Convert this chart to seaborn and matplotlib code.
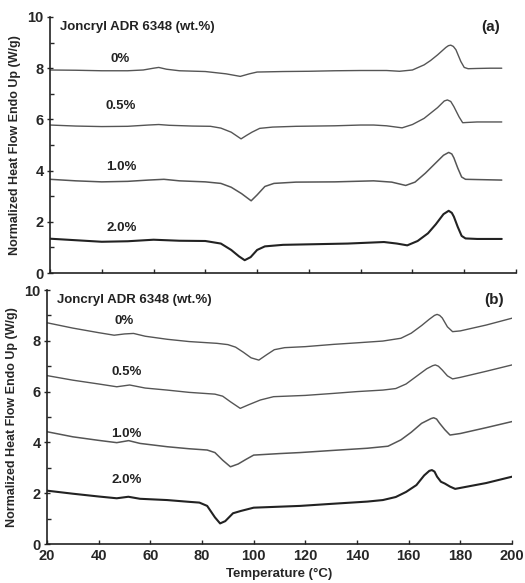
import numpy as np
import pandas as pd
import seaborn as sns
import matplotlib
matplotlib.use("Agg")
import matplotlib.pyplot as plt
from matplotlib.ticker import MultipleLocator

# ---- data ----
labels = ["0%", "0.5%", "1.0%", "2.0%"]

# panel (a)
a0_x = [20, 30, 40, 50, 56, 60, 62, 65, 70, 80, 88, 93.5, 97, 100, 110, 120, 130, 140, 150, 155, 160, 164.5, 167, 169.7, 172.9, 173.9, 174.8, 175.8, 176.8, 178.7, 180, 181.5, 185, 190, 194.5]
a0_y = [7.93, 7.92, 7.9, 7.9, 7.93, 8.0, 8.03, 7.96, 7.9, 7.87, 7.78, 7.68, 7.78, 7.85, 7.87, 7.88, 7.9, 7.91, 7.91, 7.88, 7.93, 8.13, 8.3, 8.52, 8.81, 8.88, 8.9, 8.85, 8.72, 8.26, 8.03, 7.98, 7.99, 8.0, 8.0]

a05_x = [20, 30, 40, 50, 58, 62, 66, 75, 82, 86, 90, 93.8, 96, 98, 101, 106, 115, 130, 140, 145, 150, 156, 160, 164.5, 169.7, 172.3, 173.5, 174.8, 176, 178, 179.4, 181, 185, 194.5]
a05_y = [5.78, 5.74, 5.72, 5.73, 5.78, 5.8, 5.77, 5.74, 5.73, 5.66, 5.5, 5.24, 5.38, 5.5, 5.65, 5.7, 5.73, 5.75, 5.78, 5.78, 5.75, 5.67, 5.8, 6.04, 6.46, 6.72, 6.76, 6.7, 6.5, 6.1, 5.87, 5.88, 5.9, 5.9]

a1_x = [20, 30, 40, 50, 58, 64, 70, 80, 86, 90, 94, 97.7, 100, 103, 106.5, 115, 130, 145, 152, 157.4, 161, 165, 169, 172, 174, 175.2, 176, 177.5, 179, 180.5, 185, 194.5]
a1_y = [3.66, 3.6, 3.56, 3.58, 3.63, 3.66, 3.6, 3.56, 3.5, 3.35, 3.1, 2.82, 3.05, 3.38, 3.5, 3.55, 3.56, 3.6, 3.55, 3.42, 3.55, 3.9, 4.3, 4.6, 4.71, 4.65, 4.5, 4.1, 3.75, 3.66, 3.65, 3.63]

a2_x = [20, 30, 40, 50, 60, 70, 80, 86, 90, 93, 95.2, 97.5, 100, 103, 110, 120, 135, 149, 154, 158, 162, 166, 169, 172, 174, 175.2, 176, 177.5, 179, 180.5, 185, 194.5]
a2_y = [1.34, 1.28, 1.22, 1.24, 1.3, 1.26, 1.25, 1.15, 0.9, 0.65, 0.5, 0.62, 0.9, 1.04, 1.1, 1.12, 1.15, 1.21, 1.15, 1.08, 1.25, 1.55, 1.9, 2.3, 2.43, 2.35, 2.2, 1.8, 1.45, 1.35, 1.33, 1.33]

# panel (b)
b0_x = [20, 30, 40, 46, 50, 53.5, 58, 66.5, 75, 85.8, 90, 93, 96, 99, 102, 105, 108, 112, 120, 131, 140, 150, 157, 161, 165, 168, 170, 171, 172, 173, 175, 177, 180, 190, 200]
b0_y = [8.71, 8.5, 8.32, 8.22, 8.27, 8.29, 8.18, 8.06, 7.97, 7.9, 7.85, 7.75, 7.55, 7.33, 7.24, 7.45, 7.65, 7.73, 7.77, 7.86, 7.92, 7.99, 8.1, 8.3, 8.6, 8.85, 9.0, 9.04, 9.0, 8.9, 8.55, 8.36, 8.39, 8.62, 8.89]

b05_x = [20, 30, 40, 47, 52, 58, 66.5, 75, 85, 88, 91, 94.8, 98, 102.6, 107.7, 120, 131, 140, 150, 155, 159, 163, 167, 169.3, 170.3, 171.5, 173, 175, 177, 180, 190, 200]
b05_y = [6.63, 6.45, 6.3, 6.19, 6.26, 6.14, 6.06, 5.97, 5.9, 5.82, 5.6, 5.34, 5.48, 5.67, 5.8, 5.85, 5.93, 6.0, 6.06, 6.12, 6.3, 6.6, 6.9, 7.02, 7.05, 7.0, 6.85, 6.62, 6.5, 6.56, 6.8, 7.05]

b1_x = [20, 30, 40, 47, 51.6, 56, 66.5, 75, 82, 85, 88, 91, 94, 97, 100, 110, 118, 130, 144, 152, 157, 161, 165, 168.7, 169.7, 170.8, 172, 174, 176, 180, 190, 200]
b1_y = [4.42, 4.22, 4.08, 3.99, 4.07, 3.96, 3.83, 3.75, 3.7, 3.6, 3.3, 3.04, 3.15, 3.33, 3.5, 3.56, 3.6, 3.68, 3.77, 3.85, 4.1, 4.4, 4.75, 4.94, 4.97, 4.92, 4.75, 4.5, 4.29, 4.35, 4.58, 4.82]

b2_x = [20, 30, 40, 47, 51.5, 56, 66.5, 75, 79, 82, 85, 87, 89, 92, 95, 100, 118, 130, 144, 150, 155, 159, 163, 166, 168, 169, 170, 171, 172.5, 174, 176, 178, 190, 200]
b2_y = [2.1, 1.98, 1.87, 1.8, 1.86, 1.78, 1.73, 1.66, 1.63, 1.5, 1.05, 0.81, 0.9, 1.21, 1.3, 1.43, 1.5, 1.58, 1.67, 1.73, 1.85, 2.05, 2.32, 2.7, 2.88, 2.91, 2.85, 2.65, 2.45, 2.38, 2.26, 2.17, 2.4, 2.65]

# label positions (data coords)
a_lab_x = [47, 47.4, 47.6, 47.6]
a_lab_y = [8.35, 6.53, 4.15, 1.74]
b_lab_x = [50, 50.7, 50.7, 50.7]
b_lab_y = [8.77, 6.76, 4.33, 2.52]

panel_a = [(a0_x, a0_y), (a05_x, a05_y), (a1_x, a1_y), (a2_x, a2_y)]
panel_b = [(b0_x, b0_y), (b05_x, b05_y), (b1_x, b1_y), (b2_x, b2_y)]

sns.set_style("ticks")
plt.rcParams['font.family'] = ['Liberation Sans', 'DejaVu Sans']
plt.rcParams['font.weight'] = 'bold'

fig = plt.figure(figsize=(5.25, 5.83), dpi=100)
ax_a = fig.add_axes([50/525, 1-273/583, (516-50)/525, (273-17)/583])
ax_b = fig.add_axes([47/525, 1-544/583, (512-47)/525, (544-290)/583])

line_col = ["#555555", "#555555", "#555555", "#222222"]
line_w = [1.0, 1.0, 1.1, 1.5]

def draw_panel(ax, curves, lab_x, lab_y, tag, tag_x):
    for i, (xs, ys) in enumerate(curves):
        sns.lineplot(x=xs, y=ys, ax=ax, color=line_col[i], lw=line_w[i], sort=False)
        ax.text(lab_x[i], lab_y[i], labels[i], ha="center", va="center",
                fontsize=9.5, fontweight="bold", color="#222222")
    ax.text(24, 9.6, "Joncryl ADR 6348 (wt.%)", ha="left", va="center",
            fontsize=9.5, fontweight="bold", color="#222222")
    ax.text(tag_x, 9.6, tag, ha="right", va="center", fontsize=11,
            fontweight="bold", color="#222222")
    ax.set_xlim(20, 200)
    ax.set_ylim(0, 10)
    ax.xaxis.set_major_locator(MultipleLocator(20))
    ax.yaxis.set_major_locator(MultipleLocator(2))
    ax.yaxis.set_minor_locator(MultipleLocator(1))
    ax.tick_params(axis="x", direction="in", length=3, width=1, labelsize=10.5)
    ax.tick_params(axis="y", which="major", direction="inout", length=5, width=1, labelsize=10.5, pad=2)
    ax.tick_params(axis="y", which="minor", direction="in", length=3, width=1)
    for s in ["top", "right"]:
        ax.spines[s].set_visible(False)
    for s in ["left", "bottom"]:
        ax.spines[s].set_linewidth(1.2)
        ax.spines[s].set_color("#222222")
    ax.set_ylabel("Normalized Heat Flow Endo Up (W/g)", fontsize=9,
                  fontweight="bold", labelpad=5)
    for lab in ax.get_xticklabels() + ax.get_yticklabels():
        lab.set_fontweight("bold")

draw_panel(ax_a, panel_a, a_lab_x, a_lab_y, "(a)", 194)
draw_panel(ax_b, panel_b, b_lab_x, b_lab_y, "(b)", 196.8)

ax_a.set_xticklabels([])
ax_a.set_xlabel("")
ax_b.set_xlabel("Temperature (\u00b0C)", fontsize=9.5, fontweight="bold", labelpad=4)

fig.savefig("out.png", dpi=100)
